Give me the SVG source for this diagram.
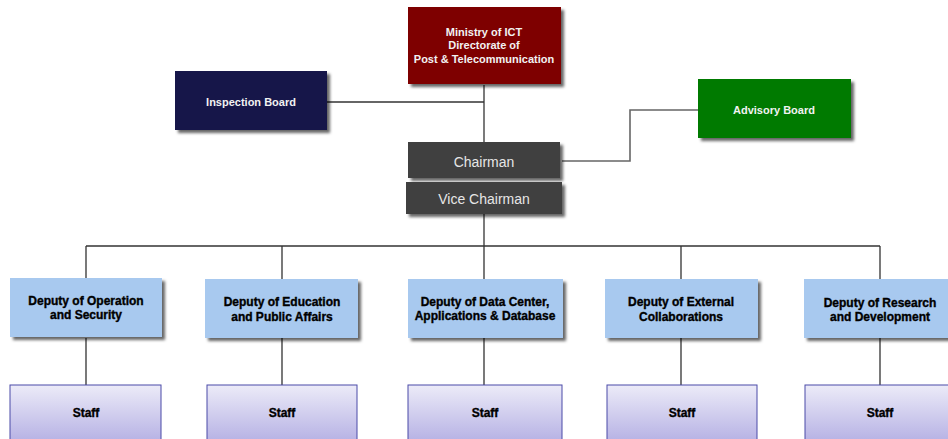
<svg xmlns="http://www.w3.org/2000/svg" width="948" height="439" viewBox="0 0 948 439">
<defs>
<filter id="sh" x="-10%" y="-20%" width="130%" height="150%">
<feDropShadow dx="3" dy="3" stdDeviation="1.5" flood-color="#000" flood-opacity="0.6"/>
</filter>
<linearGradient id="staffg" x1="0" y1="0" x2="0" y2="1">
<stop offset="0" stop-color="#ecebf8"/>
<stop offset="1" stop-color="#b3aee3"/>
</linearGradient>
<style>
.ln{fill:none;stroke:#333;stroke-width:1.3}
.ln2{fill:none;stroke:#666;stroke-width:1.6}
.t{font-family:"Liberation Sans",Arial,sans-serif;text-anchor:middle}
.wb{font-size:11px;font-weight:bold;fill:#f2f2f2}
.ch{font-size:14px;fill:#e6e6e6}
.dep{fill:#a8c9ef;filter:url(#sh)}
.dt{font-size:12px;font-weight:bold;fill:#000;stroke:#000;stroke-width:0.35}
.staff{fill:url(#staffg);stroke:#4b4ba8;stroke-width:1}
</style>
</defs>
<g id="connectors">
<path class="ln" d="M484 85 V143"/>
<path class="ln" d="M327 102 H484"/>
<path class="ln2" d="M698 110 H630 V161 H562"/>
<path class="ln" d="M484 214 V246"/>
<path class="ln" d="M86 246 H880"/>
<path class="ln" d="M86 246 V278 M282 246 V279 M484 246 V279 M681 246 V279 M880 246 V279"/>
<path class="ln" d="M86 338 V385 M282 338 V385 M484 338 V385 M681 338 V385 M880 338 V385"/>
</g>
<g id="ministry">
<rect x="408" y="7" width="153" height="77" fill="#7e0000" filter="url(#sh)"/>
<text class="t wb" x="484" y="36">Ministry of ICT</text>
<text class="t wb" x="484" y="49">Directorate of</text>
<text class="t wb" x="484" y="63">Post &amp; Telecommunication</text>
</g>
<g id="inspection">
<rect x="175" y="71" width="152" height="59" fill="#16164a" filter="url(#sh)"/>
<text class="t wb" x="251" y="106">Inspection Board</text>
</g>
<g id="advisory">
<rect x="698" y="79" width="153" height="59" fill="#007a00" filter="url(#sh)"/>
<text class="t wb" x="774" y="114">Advisory Board</text>
</g>
<g id="chairman">
<rect x="408" y="142" width="152" height="36" fill="#404040" filter="url(#sh)"/>
<text class="t ch" x="484" y="167">Chairman</text>
</g>
<g id="vice">
<rect x="406" y="182" width="156" height="32" fill="#404040" filter="url(#sh)"/>
<text class="t ch" x="484" y="204">Vice Chairman</text>
</g>
<g id="dep1">
<rect class="dep" x="10" y="278" width="152" height="59"/>
<text class="t dt" x="86" y="305">Deputy of Operation</text>
<text class="t dt" x="86" y="319">and Security</text>
</g>
<g id="dep2">
<rect class="dep" x="205" y="279" width="153" height="59"/>
<text class="t dt" x="282" y="306">Deputy of Education</text>
<text class="t dt" x="282" y="321">and Public Affairs</text>
</g>
<g id="dep3">
<rect class="dep" x="408" y="279" width="155" height="59"/>
<text class="t dt" x="485" y="306">Deputy of Data Center,</text>
<text class="t dt" x="485" y="320">Applications &amp; Database</text>
</g>
<g id="dep4">
<rect class="dep" x="605" y="279" width="153" height="59"/>
<text class="t dt" x="681" y="306">Deputy of External</text>
<text class="t dt" x="681" y="321">Collaborations</text>
</g>
<g id="dep5">
<rect class="dep" x="804" y="279" width="153" height="59"/>
<text class="t dt" x="880" y="307">Deputy of Research</text>
<text class="t dt" x="880" y="321">and Development</text>
</g>
<g id="staff1">
<rect class="staff" x="10" y="385" width="151" height="60"/>
<text class="t dt" x="86" y="417">Staff</text>
</g>
<g id="staff2">
<rect class="staff" x="207" y="385" width="150" height="60"/>
<text class="t dt" x="282" y="417">Staff</text>
</g>
<g id="staff3">
<rect class="staff" x="408" y="385" width="154" height="60"/>
<text class="t dt" x="485" y="417">Staff</text>
</g>
<g id="staff4">
<rect class="staff" x="607" y="385" width="150" height="60"/>
<text class="t dt" x="682" y="417">Staff</text>
</g>
<g id="staff5">
<rect class="staff" x="805" y="385" width="152" height="60"/>
<text class="t dt" x="880" y="417">Staff</text>
</g>
</svg>
